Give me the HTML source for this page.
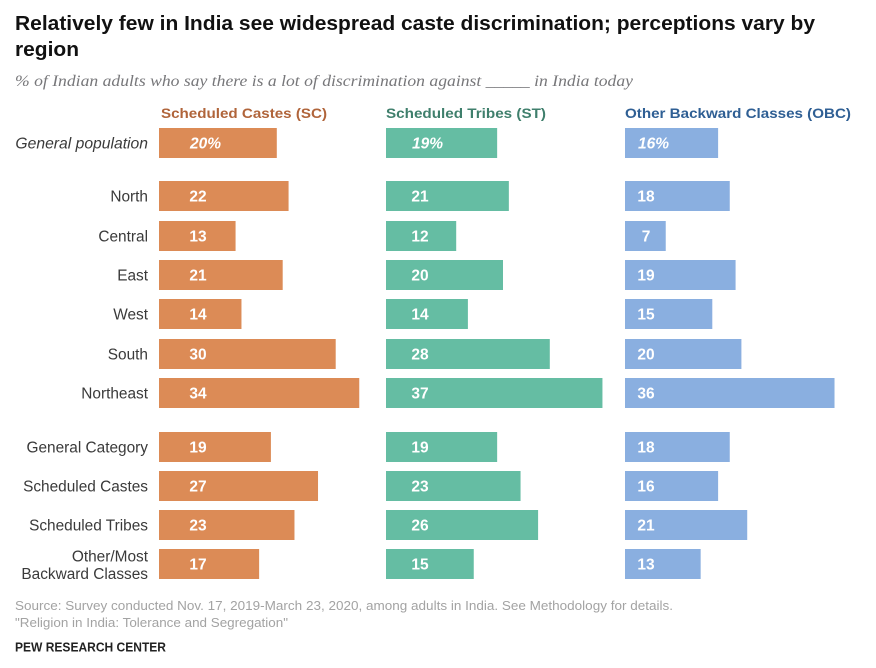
<!DOCTYPE html>
<html lang="en">
<head>
<meta charset="utf-8">
<title>Caste discrimination perceptions in India</title>
<style>
html,body{margin:0;padding:0;background:#fff;}
body{width:876px;height:668px;overflow:hidden;}
svg{display:block;filter:blur(0.35px);}
text{font-family:"Liberation Sans",sans-serif;}
</style>
</head>
<body>
<svg id="chart" xmlns="http://www.w3.org/2000/svg" width="876" height="668" viewBox="0 0 876 668">
  <rect width="876" height="668" fill="#fff"/>
  <text x="15" y="30" font-size="20" font-weight="700" fill="#111" textLength="800" lengthAdjust="spacingAndGlyphs">Relatively few in India see widespread caste discrimination; perceptions vary by</text>
  <text x="15" y="56" font-size="20" font-weight="700" fill="#111" textLength="64" lengthAdjust="spacingAndGlyphs">region</text>
  <text x="15" y="86" font-size="15.5" font-style="italic" fill="#77777a" style="font-family:'Liberation Serif',serif" textLength="618" lengthAdjust="spacingAndGlyphs">% of Indian adults who say there is a lot of discrimination against _____ in India today</text>
  <g id="plot"></g>
  <text x="15" y="610" font-size="12.5" fill="#a3a3a3" textLength="658" lengthAdjust="spacingAndGlyphs">Source: Survey conducted Nov. 17, 2019-March 23, 2020, among adults in India. See Methodology for details.</text>
  <text x="15" y="627" font-size="12.5" fill="#a3a3a3" textLength="273" lengthAdjust="spacingAndGlyphs">"Religion in India: Tolerance and Segregation"</text>
  <text x="15" y="651.5" font-size="12.5" font-weight="700" fill="#222" textLength="151" lengthAdjust="spacingAndGlyphs">PEW RESEARCH CENTER</text>
</svg>
<script>
const categories = ["General population","North","Central","East","West","South","Northeast","General Category","Scheduled Castes","Scheduled Tribes","Other/Most|Backward Classes"];
const scValues = [20,22,13,21,14,30,34,19,27,23,17];
const stValues = [19,21,12,20,14,28,37,19,23,26,15];
const obcValues = [16,18,7,19,15,20,36,18,16,21,13];
const seriesNames = ["Scheduled Castes (SC)","Scheduled Tribes (ST)","Other Backward Classes (OBC)"];

const NS = "http://www.w3.org/2000/svg";
const plot = document.getElementById("plot");
const BAR_H = 30;
const rowTops = [128,181,221,260,299,339,378,432,471,510,549];
function yRow(i){ return rowTops[i]; }
function slug(s){ return s.toLowerCase().replace(/[^a-z0-9]+/g,"-").replace(/^-|-$/g,""); }

const panels = [
  {values:scValues, key:"sc", x0:159, unit:5.89, fill:"#dc8b56", head:"#b0643a", headX:161, headW:166, labelX:198},
  {values:stValues, key:"st", x0:386, unit:5.85, fill:"#65bda3", head:"#3f7f6c", headX:386, headW:160, labelX:420},
  {values:obcValues, key:"obc", x0:625, unit:5.82, fill:"#8aafe0", head:"#2f5f94", headX:625, headW:226, labelX:646}
];

function txt(x,y,s,size,fill,anchor){
  const t = document.createElementNS(NS,"text");
  t.setAttribute("x",x);
  t.setAttribute("y",y);
  t.setAttribute("font-size",size);
  t.setAttribute("fill",fill);
  if(anchor) t.setAttribute("text-anchor",anchor);
  t.textContent = s;
  plot.appendChild(t);
  return t;
}

panels.forEach(function(p,pi){
  const h = txt(p.headX, 118, seriesNames[pi], 14, p.head);
  
  
  h.setAttribute("font-weight","700");
  h.setAttribute("textLength",p.headW);
  h.setAttribute("lengthAdjust","spacingAndGlyphs");
  p.values.forEach(function(v,i){
    const r = document.createElementNS(NS,"rect");
    
    
    r.setAttribute("x",p.x0);
    r.setAttribute("y",yRow(i));
    r.setAttribute("width",v * p.unit);
    r.setAttribute("height",BAR_H);
    r.setAttribute("fill",p.fill);
    plot.appendChild(r);
    const lx = i===0 ? p.labelX + 7.5 : p.labelX;
    const t = txt(lx, yRow(i)+20.5, i===0 ? v+"%" : String(v), 15.5, "#fff", "middle");
    
    
    t.setAttribute("font-weight","700");
    if(i===0) t.setAttribute("font-style","italic");
  });
});

categories.forEach(function(c,i){
  const parts = c.split("|");
  parts.forEach(function(line,k){
    const y = parts.length===1 ? yRow(i)+20.5 : yRow(i)+12.5+k*17.5;
    const t = txt(148, y, line, i===0 ? 15.7 : 15.4, "#3a3a3a", "end");
    
    
    if(i===0) t.setAttribute("font-style","italic");
  });
});
</script>
</body>
</html>
